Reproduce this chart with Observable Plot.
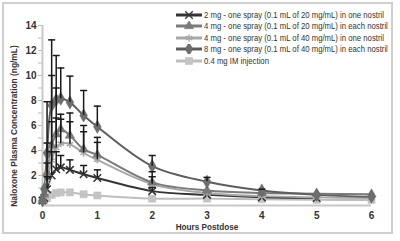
<!DOCTYPE html>
<html><head><meta charset="utf-8">
<script src="https://cdn.jsdelivr.net/npm/d3@7"></script>
<script src="https://cdn.jsdelivr.net/npm/@observablehq/plot@0.6"></script>
<style>
body{margin:0;background:#fff;}
#wrap{position:relative;width:400px;height:241px;overflow:hidden;font-family:"Liberation Sans",Arial,sans-serif;}
#frame{position:absolute;left:2px;top:2px;width:391px;height:232px;border:2px solid #cfcfcf;box-sizing:border-box;}
#chart{position:absolute;left:0;top:0;}
#legend{position:absolute;left:176px;top:9px;font-size:9px;color:#333;}
.row{height:11.5px;display:flex;align-items:center;white-space:nowrap;}
.row svg{margin-right:2px;flex:none;}
.row span{display:inline-block;transform:scaleX(0.86);transform-origin:0 50%;}
.ylab{position:absolute;left:14px;top:126px;transform:translate(-50%,-50%) rotate(-90deg) scaleX(0.93);font-size:9px;font-weight:bold;color:#333;white-space:nowrap;}
.xlab{position:absolute;left:207px;top:226px;transform:translate(-50%,-50%) scaleX(0.86);font-size:9.5px;font-weight:bold;color:#333;white-space:nowrap;}
</style></head>
<body><div id="wrap"><div id="frame"></div><div id="chart"></div><div id="legend"></div>
<div class="ylab">Naloxone Plasma Concentration (ng/mL)</div>
<div class="xlab">Hours Postdose</div></div>
<script>
const times = [0, 0.033, 0.083, 0.167, 0.25, 0.333, 0.5, 0.75, 1, 2, 3, 4, 5, 6];
const seriesNames = [
  "2 mg - one spray (0.1 mL of 20 mg/mL) in one nostril",
  "4 mg - one spray (0.1 mL of 20 mg/mL) in each nostril",
  "4 mg - one spray (0.1 mL of 40 mg/mL) in one nostril",
  "8 mg - one spray (0.1 mL of 40 mg/mL) in each nostril",
  "0.4 mg IM injection"
];
const mg2 = [0, 0.2, 0.9, 2.0, 2.5, 2.65, 2.45, 2.1, 1.8, 0.75, 0.45, 0.25, 0.2, null];
const mg2Upper = [null, null, 1.9, 3.9, 3.9, 3.6, 3.25, 2.8, 2.45, 1.05, null, null, null, null];
const mg4each = [0, 0.5, 2.2, 4.4, 5.3, 5.7, 5.2, 4.1, 3.65, 1.45, 0.8, 0.6, 0.55, 0.5];
const mg4eachUpper = [null, null, 4.6, 10.0, 9.0, 6.9, 7.0, 6.0, 5.05, 2.3, null, null, null, null];
const mg4one = [0, 0.3, 1.5, 3.2, 4.2, 4.55, 4.5, 3.8, 3.25, 1.3, 0.6, 0.35, 0.25, 0.2];
const mg4oneUpper = [null, null, 3.0, 6.3, 6.6, 6.5, 6.3, 5.5, 4.65, 1.9, null, null, null, null];
const mg8 = [0, 0.9, 3.8, 7.6, 8.05, 8.15, 7.85, 6.8, 5.9, 2.75, 1.5, 0.8, 0.45, 0.3];
const mg8Upper = [null, null, 7.9, 12.85, 11.6, 10.6, 9.95, 8.8, 7.55, 3.6, 1.85, 0.9, null, null];
const im = [0, 0.05, 0.2, 0.45, 0.6, 0.65, 0.65, 0.5, 0.4, 0.15, 0.15, 0.1, 0.05, 0.05];
const imUpper = times.map(() => null);
const yTicks = [0, 2, 4, 6, 8, 10, 12, 14];
const xTicks = [0, 1, 2, 3, 4, 5, 6];

const styles = [
  {values: mg2, upper: mg2Upper, color: "#333333", symbol: "times", fill: "none", r: 3.5},
  {values: mg4each, upper: mg4eachUpper, color: "#7a7a7a", symbol: "triangle", fill: "#7a7a7a", r: 3.5},
  {values: mg4one, upper: mg4oneUpper, color: "#a8a8a8", symbol: "asterisk", fill: "none", r: 3.5},
  {values: mg8, upper: mg8Upper, color: "#5e5e5e", symbol: "diamond", fill: "#6e6e6e", r: 4},
  {values: im, upper: imUpper, color: "#bdbdbd", symbol: "square", fill: "#c4c4c4", r: 4}
];

const capSymbol = {draw(ctx, size){ const w = Math.sqrt(size)/2; ctx.moveTo(-w,0); ctx.lineTo(w,0); }};

const drawOrder = [4, 0, 2, 1, 3];
const marks = [
  Plot.ruleY([-0.4], {stroke: "#c8c8c8", strokeWidth: 2}),
  Plot.ruleX([0], {y1: -0.4, y2: 14, stroke: "#c8c8c8", strokeWidth: 2}),
  Plot.axisY({ticks: d3.range(0, 15, 1), tickSize: 4, text: null, stroke: "#bbb", label: null}),
  Plot.axisY({ticks: yTicks, tickSize: 4, tickPadding: 2, stroke: "#bbb", label: null, fill: "#333", tickFormat: d => d}),
  Plot.axisX({ticks: xTicks, tickSize: 0, tickPadding: 6, label: null, fill: "#333", tickFormat: d => d})
];
for (const i of drawOrder) {
  const s = styles[i];
  const rows = times.map((t, j) => ({t, v: s.values[j], up: s.upper[j]})).filter(d => d.v != null);
  marks.push(Plot.line(rows, {x: "t", y: "v", stroke: s.color, strokeWidth: 2, curve: "catmull-rom"}));
}
for (const i of drawOrder) {
  const s = styles[i];
  const rows = times.map((t, j) => ({t, v: s.values[j], up: s.upper[j]})).filter(d => d.v != null);
  marks.push(Plot.dot(rows, {x: "t", y: "v", symbol: s.symbol, r: s.r, fill: s.fill, stroke: s.color, strokeWidth: s.fill === "none" ? 1.5 : 0.5}));
}
for (const i of drawOrder) {
  const s = styles[i];
  const rows = times.map((t, j) => ({t, v: s.values[j], up: s.upper[j]})).filter(d => d.v != null && d.up != null);
  marks.push(Plot.ruleX(rows, {x: "t", y1: "v", y2: "up", stroke: "#1a1a1a", strokeWidth: 1.5}));
  marks.push(Plot.dot(rows, {x: "t", y: "up", symbol: capSymbol, r: 4, stroke: "#1a1a1a", strokeWidth: 1.5, fill: "none"}));
}

const chart = Plot.plot({
  width: 400, height: 241,
  marginLeft: 42, marginRight: 29, marginTop: 25, marginBottom: 36,
  x: {domain: [0, 6]},
  y: {domain: [-0.4, 14]},
  style: {fontFamily: '"Liberation Sans",Arial,sans-serif', fontSize: "10px", fontWeight: "bold", color: "#333", background: "transparent"},
  marks
});
document.getElementById("chart").appendChild(chart);

const legend = d3.select("#legend");
const symMap = {times: d3.symbolTimes, triangle: d3.symbolTriangle, asterisk: d3.symbolAsterisk, diamond: d3.symbolDiamond, square: d3.symbolSquare};
styles.forEach((s, i) => {
  const row = legend.append("div").attr("class", "row");
  const svg = row.append("svg").attr("width", 26).attr("height", 10);
  svg.append("line").attr("x1", 0).attr("x2", 26).attr("y1", 5).attr("y2", 5).attr("stroke", s.color).attr("stroke-width", 3);
  svg.append("path").attr("transform", "translate(13,5)")
    .attr("d", d3.symbol(symMap[s.symbol], s.r * s.r * Math.PI)())
    .attr("fill", s.fill).attr("stroke", s.color).attr("stroke-width", s.fill === "none" ? 1.3 : 0.5);
  row.append("span").text(seriesNames[i]);
});
</script></body></html>
